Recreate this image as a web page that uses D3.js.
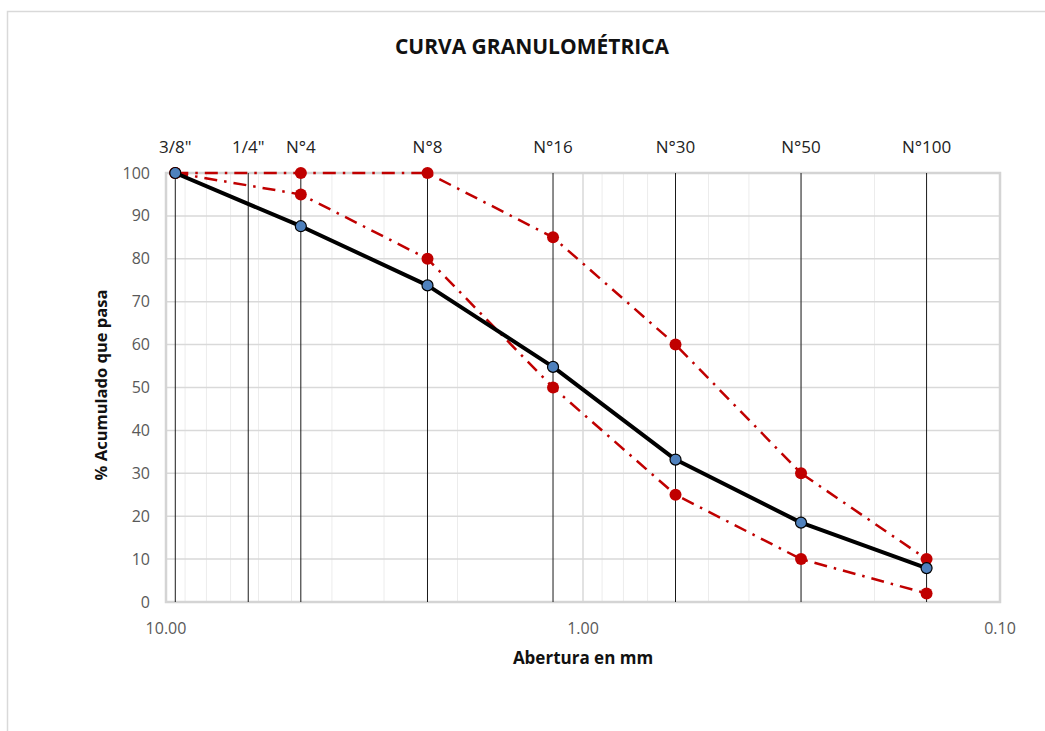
<!DOCTYPE html>
<html>
<head>
<meta charset="utf-8">
<script src="https://cdn.jsdelivr.net/npm/d3@7"></script>
<style>
  body { margin: 0; background: #fff; }
  text { font-family: "Open Sans", "Noto Sans", sans-serif; }
</style>
</head>
<body>
<div id="my_dataviz"></div>
<script>

// sieve names and openings (mm)
var sieves   = ["3/8\"", "1/4\"", "N°4", "N°8", "N°16", "N°30", "N°50", "N°100"];
var openings = [9.5, 6.35, 4.75, 2.36, 1.18, 0.6, 0.3, 0.15];

// curve points (sieve, % passing)
var curveSieves = ["3/8\"", "N°4", "N°8", "N°16", "N°30", "N°50", "N°100"];
var muestra  = [100, 87.6, 73.8, 54.8, 33.2, 18.5, 7.9];
var limSup   = [100, 100, 100, 85, 60, 30, 10];
var limInf   = [100, 95, 80, 50, 25, 10, 2];

var xTicks = [10, 1, 0.1];
var yTicks = [0, 10, 20, 30, 40, 50, 60, 70, 80, 90, 100];

var width = 1045, height = 731;
var margin = {top: 173, right: 45, bottom: 129, left: 166};

var svg = d3.select("#my_dataviz")
  .append("svg")
    .attr("width", width)
    .attr("height", height);

// chart frame
svg.append("rect")
  .attr("x", 7.5).attr("y", 11.5)
  .attr("width", 1040).attr("height", 730)
  .attr("fill", "none")
  .attr("stroke", "#d9d9d9")
  .attr("stroke-width", 1.5);

var x = d3.scaleLog()
  .domain([10, 0.1])
  .range([margin.left, width - margin.right]);

var y = d3.scaleLinear()
  .domain([0, 100])
  .range([height - margin.bottom, margin.top]);

var g = svg.append("g");

// minor log gridlines
var minor = [];
[1, 0.1].forEach(function(dec) {
  for (var k = 2; k <= 9; k++) minor.push(k * dec);
});
g.selectAll(".minor")
  .data(minor)
  .enter().append("line")
    .attr("x1", function(d) { return x(d); })
    .attr("x2", function(d) { return x(d); })
    .attr("y1", y(0)).attr("y2", y(100))
    .attr("stroke", "#ececec")
    .attr("stroke-width", 1);

// major vertical gridline at 1
g.append("line")
  .attr("x1", x(1)).attr("x2", x(1))
  .attr("y1", y(0)).attr("y2", y(100))
  .attr("stroke", "#d9d9d9")
  .attr("stroke-width", 1.5);

// horizontal gridlines
g.selectAll(".hgrid")
  .data(yTicks)
  .enter().append("line")
    .attr("x1", x(10)).attr("x2", x(0.1))
    .attr("y1", function(d) { return y(d); })
    .attr("y2", function(d) { return y(d); })
    .attr("stroke", "#d9d9d9")
    .attr("stroke-width", 1.5);

// plot border
g.append("rect")
  .attr("x", x(10)).attr("y", y(100))
  .attr("width", x(0.1) - x(10)).attr("height", y(0) - y(100))
  .attr("fill", "none")
  .attr("stroke", "#d4d4d4")
  .attr("stroke-width", 2.5);

// sieve lines
g.selectAll(".sieve")
  .data(openings)
  .enter().append("line")
    .attr("x1", function(d) { return x(d); })
    .attr("x2", function(d) { return x(d); })
    .attr("y1", y(0)).attr("y2", y(100))
    .attr("stroke", "#1a1a1a")
    .attr("stroke-width", 1);

// sieve labels on top
g.selectAll(".slabel")
  .data(sieves)
  .enter().append("text")
    .attr("x", function(d, i) { return x(openings[i]); })
    .attr("y", 153)
    .attr("text-anchor", "middle")
    .attr("font-size", "17px")
    .attr("fill", "#222")
    .text(function(d) { return d; });

// y tick labels
g.selectAll(".ylabel")
  .data(yTicks)
  .enter().append("text")
    .attr("x", 150)
    .attr("y", function(d) { return y(d) + 5.5; })
    .attr("text-anchor", "end")
    .attr("font-size", "16px")
    .attr("fill", "#595959")
    .text(function(d) { return d; });

// x tick labels
g.selectAll(".xlabel")
  .data(xTicks)
  .enter().append("text")
    .attr("x", function(d) { return x(d); })
    .attr("y", 634)
    .attr("text-anchor", "middle")
    .attr("font-size", "16px")
    .attr("fill", "#595959")
    .text(function(d) { return d.toFixed(2); });

// titles
svg.append("text")
  .attr("x", 532).attr("y", 54)
  .attr("text-anchor", "middle")
  .attr("font-size", "21px")
  .attr("font-weight", "bold")
  .attr("fill", "#111")
  .text("CURVA GRANULOMÉTRICA");

svg.append("text")
  .attr("x", 583).attr("y", 664)
  .attr("text-anchor", "middle")
  .attr("font-size", "17px")
  .attr("font-weight", "bold")
  .attr("fill", "#111")
  .text("Abertura en mm");

svg.append("text")
  .attr("transform", "translate(107,385) rotate(-90)")
  .attr("text-anchor", "middle")
  .attr("font-size", "16.5px")
  .attr("font-weight", "bold")
  .attr("fill", "#111")
  .text("% Acumulado que pasa");

function pts(vals) {
  return vals.map(function(v, i) {
    return [x(openings[sieves.indexOf(curveSieves[i])]), y(v)];
  });
}

var line = d3.line();

// limit curves
[limSup, limInf].forEach(function(vals) {
  g.append("path")
    .attr("d", line(pts(vals)))
    .attr("fill", "none")
    .attr("stroke", "#c00000")
    .attr("stroke-width", 2.5)
    .attr("stroke-dasharray", "13,7,2.5,7");
  g.selectAll(null)
    .data(pts(vals))
    .enter().append("circle")
      .attr("cx", function(d) { return d[0]; })
      .attr("cy", function(d) { return d[1]; })
      .attr("r", 6)
      .attr("fill", "#c00000");
});

// sample curve
g.append("path")
  .attr("d", line(pts(muestra)))
  .attr("fill", "none")
  .attr("stroke", "#000")
  .attr("stroke-width", 4)
  .attr("stroke-linejoin", "round");

g.selectAll(null)
  .data(pts(muestra))
  .enter().append("circle")
    .attr("cx", function(d) { return d[0]; })
    .attr("cy", function(d) { return d[1]; })
    .attr("r", 5.5)
    .attr("fill", "#4f81bd")
    .attr("stroke", "#000")
    .attr("stroke-width", 1.2);

</script>
</body>
</html>
